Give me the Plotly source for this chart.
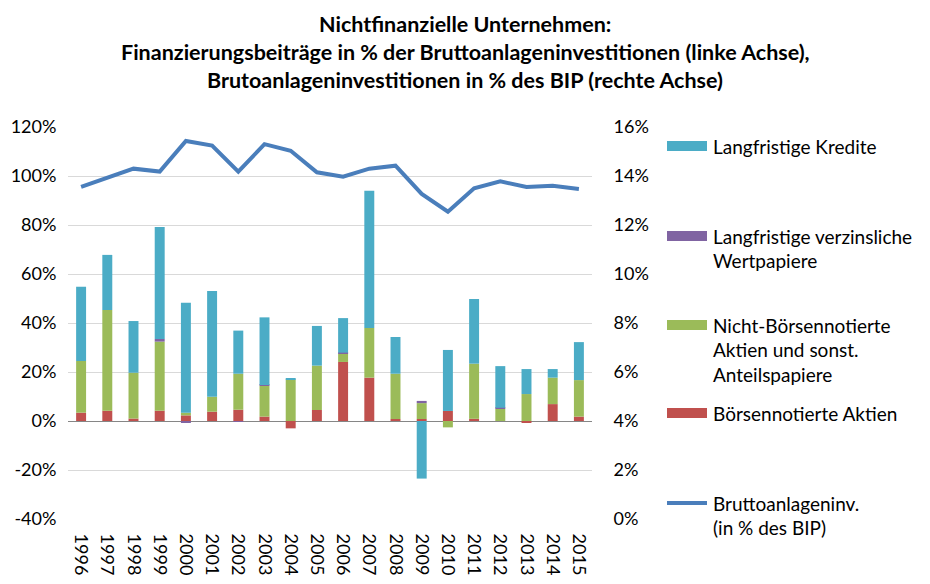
import plotly.graph_objects as go

years = [str(y) for y in range(1996, 2016)]
boersen = [3.4, 4.2, 1.0, 4.2, 2.3, 3.8, 4.6, 1.8, -3.0, 4.5, 24.1, 17.7, 0.8, 0.8, 4.1, 0.9, 0.0, -0.5, 6.9, 1.8]
nicht_boersen = [21.1, 41.1, 18.7, 28.2, 1.1, 6.1, 14.7, 12.6, 17.0, 18.1, 3.5, 20.3, 18.5, 6.5, -2.6, 22.5, 5.0, 11.0, 10.8, 14.9]
wertpapiere = [0.0, 0.0, 0.0, 1.1, -0.5, 0.0, -0.3, 0.3, 0.0, 0.0, 0.3, 0.0, 0.0, 0.9, 0.0, 0.0, 0.4, 0.0, 0.0, 0.0]
kredite = [30.3, 22.5, 21.1, 45.7, 44.9, 43.2, 17.6, 27.6, 0.5, 16.2, 14.1, 56.0, 15.0, -23.5, 24.9, 26.4, 17.0, 10.2, 3.5, 15.5]
bai_bip = [13.56, 13.95, 14.3, 14.18, 15.43, 15.24, 14.18, 15.3, 15.03, 14.15, 13.97, 14.3, 14.42, 13.27, 12.54, 13.5, 13.78, 13.55, 13.6, 13.47]

left_tickvals = [-40, -20, 0, 20, 40, 60, 80, 100, 120]
left_ticktext = ["-40%", "-20%", "0%", "20%", "40%", "60%", "80%", "100%", "120%"]
right_tickvals = [0, 2, 4, 6, 8, 10, 12, 14, 16]
right_ticktext = ["0%", "2%", "4%", "6%", "8%", "10%", "12%", "14%", "16%"]

title_lines = ["Nichtfinanzielle Unternehmen:",
               "Finanzierungsbeiträge in % der Bruttoanlageninvestitionen (linke Achse),",
               "Brutoanlageninvestitionen in % des BIP (rechte Achse)"]

C_BLUE = "#4bacc6"
C_PURPLE = "#8064a2"
C_GREEN = "#9bbb59"
C_RED = "#c0504d"
C_LINE = "#4a7ebb"
FONT = "Lato, 'Open Sans', sans-serif"

# page has an 8px body margin: figure placed at (8, 8)
OFF = 8
W, H = 930 - OFF, 584 - OFF
L, R, T, B = 68 - OFF, 592 - OFF, 127 - OFF, 519 - OFF

def px(x):
    return (x - OFF - L) / (R - L)

def py(y):
    return (B - (y - OFF)) / (B - T)

fig = go.Figure()
fig.add_bar(x=years, y=boersen, name="Börsennotierte Aktien", marker_color=C_RED, marker_line_width=0)
fig.add_bar(x=years, y=nicht_boersen, name="Nicht-Börsennotierte Aktien und sonst. Anteilspapiere", marker_color=C_GREEN, marker_line_width=0)
fig.add_bar(x=years, y=wertpapiere, name="Langfristige verzinsliche Wertpapiere", marker_color=C_PURPLE, marker_line_width=0)
fig.add_bar(x=years, y=kredite, name="Langfristige Kredite", marker_color=C_BLUE, marker_line_width=0)
fig.add_scatter(x=years, y=bai_bip, name="Bruttoanlageninv. (in % des BIP)", yaxis="y2",
                mode="lines", line=dict(color=C_LINE, width=4))

fig.update_layout(
    width=W, height=H,
    margin=dict(l=L, r=W - R, t=T, b=H - B, autoexpand=False),
    barmode="relative", bargap=0.62,
    plot_bgcolor="white", paper_bgcolor="white",
    showlegend=False,
    font=dict(family=FONT, size=18, color="#000000"),
    xaxis=dict(type="category", tickangle=90, showgrid=False, showline=False,
               ticks="outside", ticklen=10, tickcolor="rgba(0,0,0,0)", tickfont=dict(size=18)),
    yaxis=dict(range=[-40, 120], tickvals=left_tickvals, ticktext=left_ticktext,
               showgrid=True, gridcolor="#d9d9d9",
               gridwidth=1, zeroline=True, zerolinecolor="#868686", zerolinewidth=1,
               showline=False, ticks="outside", ticklen=7, tickcolor="rgba(0,0,0,0)",
               tickfont=dict(size=18)),
    yaxis2=dict(range=[0, 16], tickvals=right_tickvals, ticktext=right_ticktext,
                overlaying="y", side="right",
                showgrid=False, zeroline=False, showline=False,
                ticks="outside", ticklen=17, tickcolor="rgba(0,0,0,0)", tickfont=dict(size=18)),
)

# title lines
for txt, yy in zip(title_lines, [24, 52, 80]):
    fig.add_annotation(text="<b>" + txt + "</b>", x=px(465), y=py(yy), xref="paper", yref="paper",
                       showarrow=False, xanchor="center", yanchor="middle",
                       font=dict(family=FONT, size=21.5, color="#000000"))

# manual legend
legend_items = [
    (C_BLUE, "rect", 146, ["Langfristige Kredite"]),
    (C_PURPLE, "rect", 236, ["Langfristige verzinsliche", "Wertpapiere"]),
    (C_GREEN, "rect", 325, ["Nicht-Börsennotierte", "Aktien und sonst.", "Anteilspapiere"]),
    (C_RED, "rect", 413, ["Börsennotierte Aktien"]),
    (C_LINE, "line", 503, ["Bruttoanlageninv.", "(in % des BIP)"]),
]
for color, kind, yc, lines in legend_items:
    if kind == "rect":
        fig.add_shape(type="rect", xref="paper", yref="paper", x0=px(667), x1=px(707),
                      y0=py(yc + 5), y1=py(yc - 5), fillcolor=color, line_width=0)
    else:
        fig.add_shape(type="line", xref="paper", yref="paper", x0=px(667), x1=px(707),
                      y0=py(yc), y1=py(yc), line=dict(color=color, width=4))
    for j, ln in enumerate(lines):
        fig.add_annotation(text=ln, x=px(711), y=py(yc + j * 24.5), xref="paper", yref="paper",
                           showarrow=False, xanchor="left", yanchor="middle",
                           font=dict(family=FONT, size=19, color="#000000"))

fig.write_html("out.html")
